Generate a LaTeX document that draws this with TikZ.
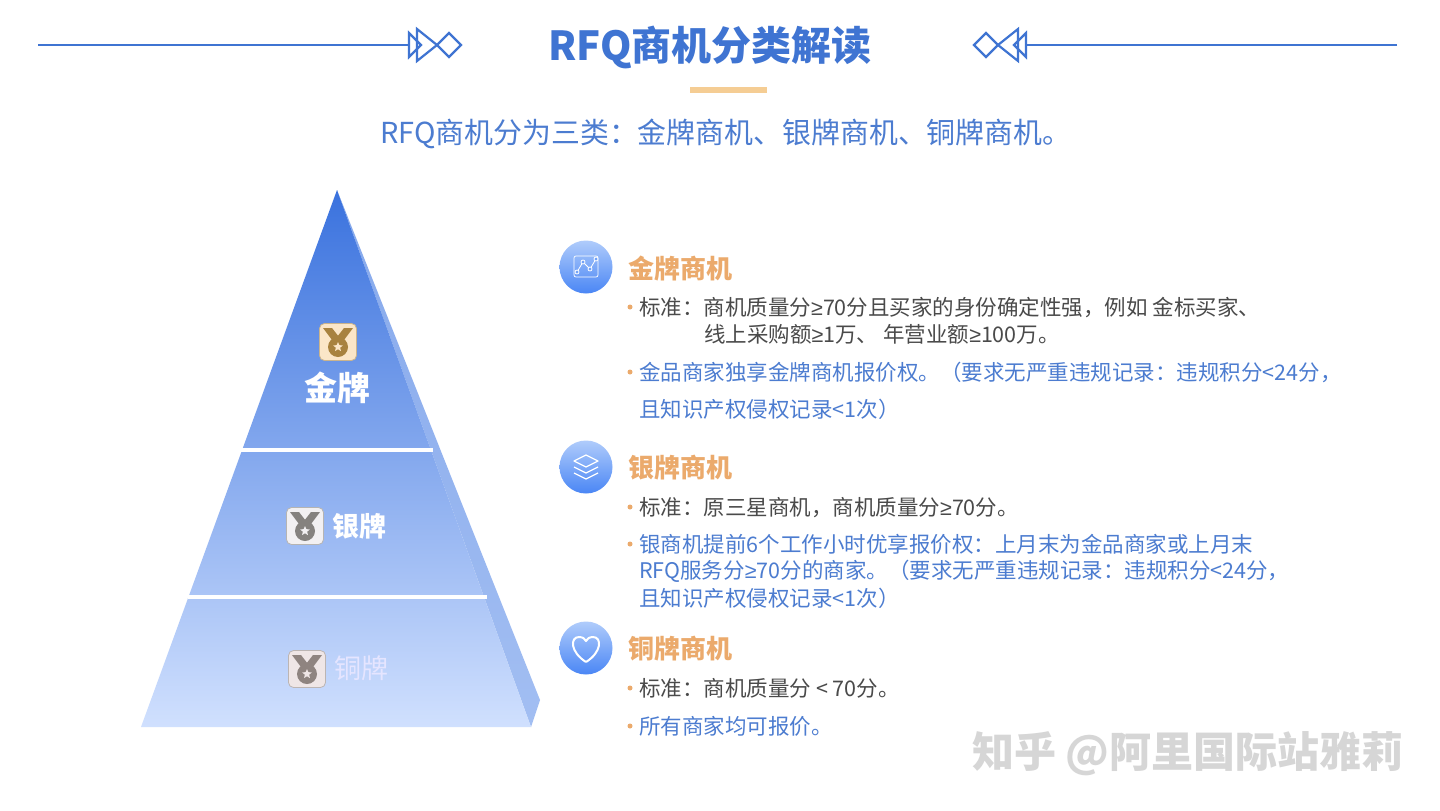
\documentclass[tikz,border=0pt]{standalone}
\usepackage{fontspec}
\setmainfont{Noto Sans CJK SC}
\newfontfamily\latinf{Liberation Sans}
\newcommand{\gesign}{{\latinf ≥}}
\newcommand{\qcolon}{^^^^ff1a}
\newcommand{\qcomma}{^^^^ff0c}
\newcommand{\qopen}{^^^^ff08}
\newcommand{\qclose}{^^^^ff09}
\usetikzlibrary{shapes.geometric}
\definecolor{titleblue}{HTML}{3F74D2}
\definecolor{textblue}{HTML}{4C7CD0}
\definecolor{textgrey}{HTML}{4A4A4A}
\definecolor{headorange}{HTML}{EBAA6C}
\definecolor{barorange}{HTML}{F5CD94}
\definecolor{pyrtop}{HTML}{3A72DE}
\definecolor{pyrbottom}{HTML}{D0E0FE}
\definecolor{facettop}{HTML}{86A9EC}
\definecolor{facetbottom}{HTML}{A2BEF2}
\definecolor{disctop}{HTML}{B0CCFB}
\definecolor{discbottom}{HTML}{4A86F5}
\definecolor{goldbg}{HTML}{FBE6C8}
\definecolor{goldfg}{HTML}{A8823F}
\definecolor{silverbg}{HTML}{F2F0F2}
\definecolor{silverfg}{HTML}{85827F}
\definecolor{copperbg}{HTML}{EFE6E6}
\definecolor{copperfg}{HTML}{8F8480}
\tikzset{
  rowtext/.style={anchor=west,inner sep=0pt,yshift=-.5pt,font=\fontsize{21.5}{24}\selectfont,text=#1},
  rowdot/.style={circle,fill=headorange,inner sep=0pt,minimum size=5pt},
  headtext/.style={anchor=west,inner sep=0pt,yshift=-1pt,font=\fontsize{26}{30}\bfseries\selectfont,text=headorange},
  bluedisc/.style={circle,inner sep=0pt,minimum size=53pt,top color=disctop,bottom color=discbottom},
  iconline/.style={draw=white,line width=1.3pt,line join=round},
  deco/.style={draw=titleblue,line width=2.2pt,line join=miter},
  pics/medal/.style 2 args={code={
    \draw[#2!60!white,line width=.8pt,fill=#1,rounded corners=5pt] (-18.5,-18.5) rectangle (18.5,18.5);
    \fill[#2] (-15,-14) -- (-6,-14) -- (1,-5) -- (-6,-2) -- cycle;
    \fill[#2] (15,-14) -- (6,-14) -- (-1,-5) -- (6,-2) -- cycle;
    \fill[#2] (0,5) circle (10);
    \node[star,star points=5,star point ratio=2.2,fill=#1,inner sep=0pt,minimum size=10pt] (-star) at (0,5) {};
  }}
}
\begin{document}
\begin{tikzpicture}[x=1pt,y=-1pt]
\useasboundingbox[fill=white] (0,0) rectangle (1440,811);
% header
\node[inner sep=0pt,text=titleblue,font=\fontsize{40}{44}\bfseries\selectfont] (title) at (710,47) {RFQ商机分类解读};
\fill[barorange] (690,87) rectangle (767,93);
\node[anchor=west,inner sep=0pt,text=textblue,font=\fontsize{28.9}{32}\selectfont] (subtitle) at (380,134) {RFQ商机分为三类\qcolon 金牌商机、银牌商机、铜牌商机。};
\foreach \s/\o in {1/0,-1/1435}{
  \begin{scope}[shift={(\o,0)},x=\s pt]
  \draw[deco] (38,45) -- (409,45);
  \draw[deco] (409,33) -- (421,45) -- (409,57) -- cycle;
  \draw[deco] (417,29) -- (437,45) -- (417,61) -- cycle;
  \draw[deco] (437,45) -- (449,33) -- (461,45) -- (449,57) -- cycle;
  \end{scope}
}
% pyramid
\coordinate (apex) at (337,190);
\coordinate (baseL) at (141,727);
\coordinate (baseR) at (531,727);
\coordinate (sideR) at (540,700);
\shade[top color=facettop,bottom color=facetbottom] (apex) -- (sideR) -- (baseR) -- cycle;
\shade[top color=pyrtop,bottom color=pyrbottom] (apex) -- (baseR) -- (baseL) -- cycle;
\draw[white,line width=4.5pt] (240,450) -- (433,450);
\draw[white,line width=4.5pt] (188,597) -- (487,597);
\pic (goldmedal) at (338,342) {medal={goldbg}{goldfg}};
\pic (silvermedal) at (305,526) {medal={silverbg}{silverfg}};
\pic (coppermedal) at (307,669) {medal={copperbg}{copperfg}};
\node[inner sep=0pt,text=white,font=\fontsize{33}{36}\bfseries\selectfont] (goldlabel) at (337,388) {金牌};
\node[inner sep=0pt,text=white,font=\fontsize{27}{30}\bfseries\selectfont] (silverlabel) at (359,526) {银牌};
\node[inner sep=0pt,text=white!90!blue,font=\fontsize{27}{30}\selectfont] (copperlabel) at (361,668) {铜牌};
% discs
\node[bluedisc] (golddisc) at (586,267) {};
\node[bluedisc] (silverdisc) at (586,467) {};
\node[bluedisc] (copperdisc) at (586,648) {};
\draw[iconline,line width=.7pt,rounded corners=2pt] (574,256) rectangle (598,277);
\draw[iconline,line width=.8pt] (577,272) -- (583,262) -- (590,269) -- (596,259);
\foreach \p in {(577,272),(583,262),(590,269),(596,259)}
  \draw[iconline,line width=.8pt,fill=discbottom!60!disctop] \p circle (2);
\foreach \d in {12,6}
  \draw[iconline] (574,461+\d) -- (586,467+\d) -- (598,461+\d);
\draw[iconline] (586,455) -- (598,461) -- (586,467) -- (574,461) -- cycle;
\draw[iconline,line width=2pt] (586,662) .. controls (570,652) and (570,637) .. (579,637) .. controls (583,637) and (585,639) .. (586,641) .. controls (587,639) and (589,637) .. (593,637) .. controls (602,637) and (602,652) .. (586,662);
% gold text
\node[headtext] (goldhead) at (628,267) {金牌商机};
\node[rowdot] (d1) at (630,307) {};
\node[rowtext=textgrey] (r1) at (639,307) {标准\qcolon 商机质量分\gesign 70分且买家的身份确定性强\qcomma 例如 金标买家、};
\node[rowtext=textgrey] (r2) at (704,334) {线上采购额\gesign 1万、 年营业额\gesign 100万。};
\node[rowdot] (d2) at (630,372) {};
\node[rowtext=textblue] (r3) at (639,372) {金品商家独享金牌商机报价权。\qopen 要求无严重违规记录\qcolon 违规积分<24分\qcomma};
\node[rowtext=textblue] (r4) at (639,409) {且知识产权侵权记录<1次\qclose};
% silver text
\node[headtext] (silverhead) at (628,467) {银牌商机};
\node[rowdot] (d3) at (630,507) {};
\node[rowtext=textgrey] (r5) at (639,507) {标准\qcolon 原三星商机\qcomma 商机质量分\gesign 70分。};
\node[rowdot] (d4) at (630,544) {};
\node[rowtext=textblue] (r6) at (639,544) {银商机提前6个工作小时优享报价权\qcolon 上月末为金品商家或上月末};
\node[rowtext=textblue] (r7) at (639,571) {RFQ服务分\gesign 70分的商家。\qopen 要求无严重违规记录\qcolon 违规积分<24分\qcomma};
\node[rowtext=textblue] (r8) at (639,598) {且知识产权侵权记录<1次\qclose};
% copper text
\node[headtext] (copperhead) at (628,648) {铜牌商机};
\node[rowdot] (d5) at (630,688) {};
\node[rowtext=textgrey] (r9) at (639,688) {标准\qcolon 商机质量分 < 70分。};
\node[rowdot] (d6) at (630,726) {};
\node[rowtext=textblue] (r10) at (639,726) {所有商家均可报价。};
% watermark
\node[anchor=west,inner sep=0pt,text=gray!32!white,font=\fontsize{42}{44}\bfseries\selectfont] (mark) at (972,754) {知乎 @阿里国际站雅莉};
\end{tikzpicture}
\end{document}
